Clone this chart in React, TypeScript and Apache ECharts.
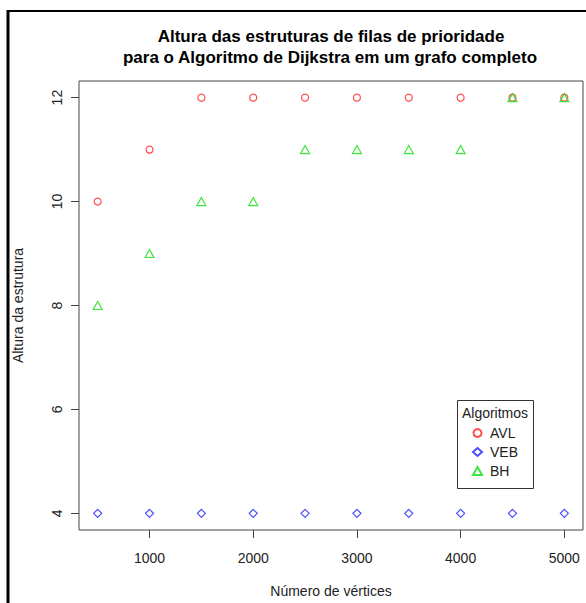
import React, { useEffect, useRef } from "react";
import * as echarts from "echarts";

const vertices = [500, 1000, 1500, 2000, 2500, 3000, 3500, 4000, 4500, 5000];
const avl = [10, 11, 12, 12, 12, 12, 12, 12, 12, 12];
const veb = [4, 4, 4, 4, 4, 4, 4, 4, 4, 4];
const bh = [8, 9, 10, 10, 11, 11, 11, 11, 12, 12];
const xTicks = [1000, 2000, 3000, 4000, 5000];
const yTicks = [4, 6, 8, 10, 12];
const titleLines = [
  "Altura das estruturas de filas de prioridade",
  "para o Algoritmo de Dijkstra em um grafo completo",
];

const FONT = "'Liberation Sans', Arial, Helvetica, sans-serif";

export default function App() {
  const ref = useRef<HTMLDivElement>(null);
  useEffect(() => {
    if (!ref.current) return;
    const chart = echarts.init(ref.current, undefined, { renderer: "svg" });
    const pair = (ys: number[]) => vertices.map((x, i) => [x, ys[i]]);
    const mk = (name: string, data: number[], symbol: string, color: string, size: any) => ({
      name,
      type: "scatter",
      data: pair(data),
      symbol,
      symbolSize: size,
      itemStyle: { color: "transparent", borderColor: color, borderWidth: 1.2 },
      emphasis: { disabled: true },
    });
    chart.setOption({
      animation: false,
      textStyle: { fontFamily: FONT },
      grid: {
        left: 79,
        top: 81,
        width: 504,
        height: 451,
        show: true,
        borderColor: "#444",
        borderWidth: 1,
        backgroundColor: "transparent",
      },
      xAxis: {
        type: "value",
        min: 320,
        max: 5180,
        splitLine: { show: false },
        axisLine: { show: false },
        axisTick: { show: true, length: 8, lineStyle: { color: "#444" }, customValues: xTicks },
        axisLabel: {
          customValues: xTicks,
          fontSize: 14,
          color: "#222",
          margin: 21,
          fontFamily: FONT,
          formatter: (v: number) => String(v),
        },
        name: "Número de vértices",
        nameLocation: "middle",
        nameGap: 54,
        nameTextStyle: { fontSize: 14, color: "#222", fontFamily: FONT },
      },
      yAxis: {
        type: "value",
        min: 3.68,
        max: 12.32,
        splitLine: { show: false },
        axisLine: { show: false },
        axisTick: { show: true, length: 8, lineStyle: { color: "#444" }, customValues: yTicks },
        axisLabel: {
          customValues: yTicks,
          fontSize: 14,
          color: "#222",
          rotate: 90,
          margin: 15,
          fontFamily: FONT,
        },
        name: "Altura da estrutura",
        nameLocation: "middle",
        nameRotate: 90,
        nameGap: 54,
        nameTextStyle: { fontSize: 14, color: "#222", fontFamily: FONT },
      },
      legend: {
        orient: "vertical",
        left: 467,
        top: 421,
        itemWidth: 9,
        itemHeight: 8,
        itemGap: 5,
        textStyle: { fontSize: 14, color: "#222", fontFamily: FONT, padding: [0, 0, 0, 3] },
        data: ["AVL", "VEB", "BH"],
        selectedMode: false,
      },
      series: [
        mk("AVL", avl, "circle", "#ff2020", 7),
        mk("VEB", veb, "diamond", "#2020ff", 8),
        mk("BH", bh, "triangle", "#10e010", [9, 8]),
      ],
      graphic: [
        {
          type: "text",
          x: 331,
          y: 36,
          style: {
            text: titleLines[0],
            fontSize: 17,
            fontWeight: "bold",
            fontFamily: FONT,
            fill: "#000",
            textAlign: "center",
            textVerticalAlign: "middle",
          },
        },
        {
          type: "text",
          x: 330,
          y: 57,
          style: {
            text: titleLines[1],
            fontSize: 17,
            fontWeight: "bold",
            fontFamily: FONT,
            fill: "#000",
            textAlign: "center",
            textVerticalAlign: "middle",
          },
        },
        {
          type: "rect",
          shape: { x: 457.5, y: 400.5, width: 76, height: 88 },
          style: { fill: "#fff", stroke: "#333", lineWidth: 1 },
          z: 1,
        },
        {
          type: "text",
          x: 495,
          y: 413,
          z: 2,
          style: {
            text: "Algoritmos",
            fontSize: 14,
            fontFamily: FONT,
            fill: "#222",
            textAlign: "center",
            textVerticalAlign: "middle",
          },
        },
        {
          type: "line",
          shape: { x1: 8, y1: 10, x2: 8, y2: 603 },
          style: { stroke: "#000", lineWidth: 3 },
        },
        {
          type: "line",
          shape: { x1: 7, y1: 11, x2: 586, y2: 11 },
          style: { stroke: "#000", lineWidth: 2 },
        },
      ],
    });
    return () => chart.dispose();
  }, []);
  return (
    <div
      ref={ref}
      style={{ position: "fixed", left: 0, top: 0, width: 586, height: 603, background: "#fff" }}
    />
  );
}
